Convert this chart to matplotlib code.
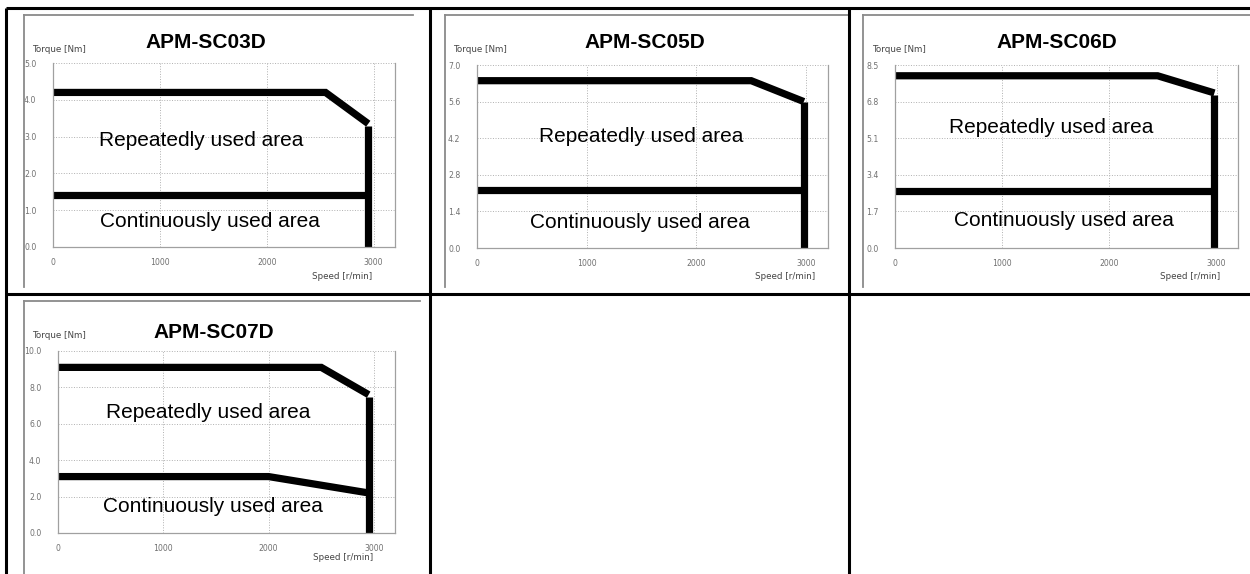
import matplotlib
matplotlib.use("Agg")
import matplotlib.pyplot as plt
from matplotlib.lines import Line2D

# ---------------- data ----------------
models = ["APM-SC03D", "APM-SC05D", "APM-SC06D", "APM-SC07D"]
speed_ticks = [0, 1000, 2000, 3000]

torque_ticks_03 = [0.0, 1.0, 2.0, 3.0, 4.0, 5.0]
torque_ticks_05 = [0.0, 1.4, 2.8, 4.2, 5.6, 7.0]
torque_ticks_06 = [0.0, 1.7, 3.4, 5.1, 6.8, 8.5]
torque_ticks_07 = [0.0, 2.0, 4.0, 6.0, 8.0, 10.0]

rep_speed_03 = [0, 2550, 2950]
rep_torque_03 = [4.2, 4.2, 3.35]
cont_speed_03 = [0, 2950]
cont_torque_03 = [1.4, 1.4]
lim_speed_03 = [2950, 2950]
lim_torque_03 = [3.3, 0.0]

rep_speed_05 = [0, 2500, 2980]
rep_torque_05 = [6.4, 6.4, 5.6]
cont_speed_05 = [0, 2980]
cont_torque_05 = [2.2, 2.2]
lim_speed_05 = [2980, 2980]
lim_torque_05 = [5.6, 0.0]

rep_speed_06 = [0, 2450, 2980]
rep_torque_06 = [8.0, 8.0, 7.2]
cont_speed_06 = [0, 2980]
cont_torque_06 = [2.65, 2.65]
lim_speed_06 = [2980, 2980]
lim_torque_06 = [7.1, 0.0]

rep_speed_07 = [0, 2500, 2950]
rep_torque_07 = [9.1, 9.1, 7.6]
cont_speed_07 = [0, 2000, 2950]
cont_torque_07 = [3.1, 3.1, 2.2]
lim_speed_07 = [2950, 2950]
lim_torque_07 = [7.5, 0.0]

label_rep = "Repeatedly used area"
label_cont = "Continuously used area"
label_y = "Torque [Nm]"
label_x = "Speed [r/min]"

# ---------------- layout ----------------
W, H = 1250, 574
fig = plt.figure(figsize=(W / 100, H / 100), dpi=100)
fig.patch.set_facecolor("white")


def fx(x):
    return x / W


def fy(y):
    return 1 - y / H


def fline(xs, ys, **kw):
    fig.add_artist(Line2D([fx(v) for v in xs], [fy(v) for v in ys],
                          transform=fig.transFigure, **kw))


def ftext(x, y, s, **kw):
    fig.text(fx(x), fy(y), s, **kw)


charts = [
    dict(model=models[0], yt=torque_ticks_03,
         rep=(rep_speed_03, rep_torque_03), cont=(cont_speed_03, cont_torque_03),
         lim=(lim_speed_03, lim_torque_03),
         ax=(53, 63, 395, 247), frame=(24, 15, 413, 287),
         title=(206, 43), ylab=(32, 50), xlab=(372, 277),
         trep=(201, 140), tcont=(210, 222)),
    dict(model=models[1], yt=torque_ticks_05,
         rep=(rep_speed_05, rep_torque_05), cont=(cont_speed_05, cont_torque_05),
         lim=(lim_speed_05, lim_torque_05),
         ax=(477, 65, 828, 248), frame=(445, 15, 848, 287),
         title=(645, 43), ylab=(453, 50), xlab=(815, 277),
         trep=(641, 137), tcont=(640, 223)),
    dict(model=models[2], yt=torque_ticks_06,
         rep=(rep_speed_06, rep_torque_06), cont=(cont_speed_06, cont_torque_06),
         lim=(lim_speed_06, lim_torque_06),
         ax=(895, 65, 1238, 248), frame=(863, 15, 1250, 287),
         title=(1057, 43), ylab=(872, 50), xlab=(1220, 277),
         trep=(1051, 128), tcont=(1064, 220)),
    dict(model=models[3], yt=torque_ticks_07,
         rep=(rep_speed_07, rep_torque_07), cont=(cont_speed_07, cont_torque_07),
         lim=(lim_speed_07, lim_torque_07),
         ax=(58, 351, 395, 533), frame=(24, 301, 420, 574),
         title=(214, 332), ylab=(32, 336), xlab=(373, 557),
         trep=(208, 413), tcont=(213, 506)),
]

SANS = "Liberation Sans"
SMALL = "DejaVu Sans"
for c in charts:
    # screenshot frame
    fl, ft, fr, fb = c["frame"]
    fline([fl, fl], [fb, ft], color="#8a8a8a", lw=1.3)
    fline([fl, fr], [ft, ft], color="#8a8a8a", lw=1.3)

    l, t, r, b = c["ax"]
    ax = fig.add_axes([fx(l), fy(b), (r - l) / W, (b - t) / H])
    yt = c["yt"]
    ax.set_xlim(0, 3200)
    ax.set_ylim(0, yt[-1])
    ax.set_xticks(speed_ticks)
    ax.set_xticklabels([str(v) for v in speed_ticks])
    ax.set_yticks(yt)
    ax.set_yticklabels([f"{v:.1f}" for v in yt])
    ax.tick_params(length=0, labelsize=5.6, labelcolor="#707070")
    ax.tick_params(axis="y", pad=12)
    ax.tick_params(axis="x", pad=8)
    for lab in ax.get_xticklabels() + ax.get_yticklabels():
        lab.set_family(SMALL)
    ax.grid(True, color="#b0b0b0", linestyle=":", linewidth=0.7)
    ax.set_axisbelow(True)
    for side in ("left", "bottom", "right"):
        ax.spines[side].set_color("#a0a0a0")
        ax.spines[side].set_linewidth(0.9)
    ax.spines["top"].set_visible(False)

    kw = dict(color="black", lw=5.2, solid_capstyle="butt",
              solid_joinstyle="miter", clip_on=False)
    ax.plot(*c["rep"], **kw)
    ax.plot(*c["cont"], **kw)
    ax.plot(*c["lim"], **kw)

    ftext(*c["title"], c["model"], ha="center", va="center",
          fontsize=15, fontweight="bold", family=SANS)
    ftext(*c["ylab"], label_y, ha="left", va="center",
          fontsize=6.3, color="#444444", family=SMALL)
    ftext(*c["xlab"], label_x, ha="right", va="center",
          fontsize=6.3, color="#444444", family=SMALL)
    ftext(*c["trep"], label_rep, ha="center", va="center",
          fontsize=15, family=SANS)
    ftext(*c["tcont"], label_cont, ha="center", va="center",
          fontsize=15, family=SANS)

# ---------------- table borders ----------------
tkw = dict(color="black", lw=2.2, solid_capstyle="butt")
fline([6, 1250], [8, 8], **tkw)
fline([6, 1250], [294, 294], **tkw)
fline([6, 6], [8, 574], **tkw)
fline([430, 430], [8, 574], **tkw)
fline([849, 849], [8, 574], **tkw)

fig.savefig("out.png", dpi=100, facecolor="white")
